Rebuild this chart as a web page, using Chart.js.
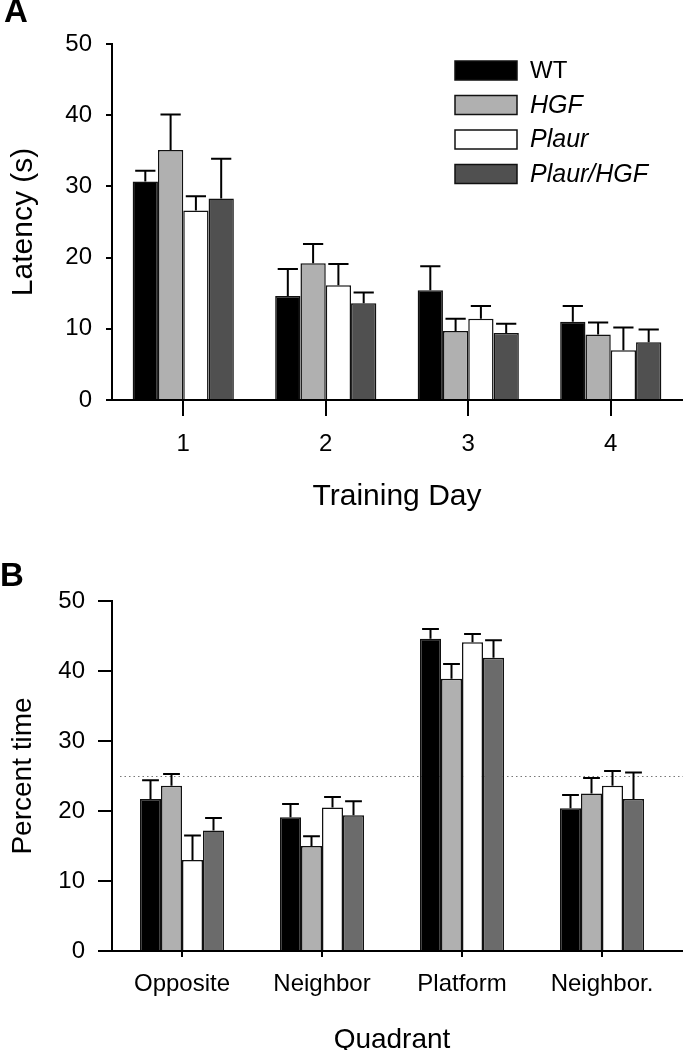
<!DOCTYPE html>
<html>
<head>
<meta charset="utf-8">
<script src="https://cdn.jsdelivr.net/npm/chart.js@4"></script>
<style>
  html, body { margin: 0; padding: 0; background: #fff; overflow: hidden; }
  #wrap { position: relative; width: 683px; height: 1050px; overflow: hidden; }
  .box { position: absolute; left: 0; width: 683px; }
  .panel { position: absolute; font-family: Arial, "Liberation Sans", sans-serif; font-weight: bold; font-size: 33px; line-height: 33px; }
</style>
</head>
<body>
<div id="wrap">
  <div class="box" style="top:0;height:520px"><canvas id="chartA" width="683" height="520"></canvas></div>
  <div class="box" style="top:520px;height:545px"><canvas id="chartB" width="683" height="545"></canvas></div>
  <div class="panel" style="left:4px;top:-6px">A</div>
  <div class="panel" style="left:0px;top:558px">B</div>
</div>
<script>
// Panel A: escape latency per training day
const days = ['1', '2', '3', '4'];
const groups = ['WT', 'HGF', 'Plaur', 'Plaur/HGF'];
const latWT = [30.7, 14.6, 15.4, 11.0];
const latHGF = [35.1, 19.2, 9.7, 9.2];
const latPlaur = [26.6, 16.1, 11.4, 7.0];
const latPlaurHGF = [28.3, 13.6, 9.4, 8.1];
const latWTsem = [1.5, 3.8, 3.4, 2.2];
const latHGFsem = [5.0, 2.7, 1.7, 1.7];
const latPlaurSem = [2.0, 3.0, 1.8, 3.2];
const latPlaurHGFsem = [5.6, 1.5, 1.3, 1.8];

// Panel B: probe trial, percent time per quadrant
const quadrants = ['Opposite', 'Neighbor', 'Platform', 'Neighbor.'];
const pctWT = [21.7, 19.1, 44.6, 20.4];
const pctHGF = [23.6, 15.0, 38.9, 22.5];
const pctPlaur = [13.0, 20.5, 44.1, 23.6];
const pctPlaurHGF = [17.2, 19.4, 41.9, 21.7];
const pctWTsem = [2.7, 1.9, 1.4, 1.9];
const pctHGFsem = [1.7, 1.4, 2.1, 2.2];
const pctPlaurSem = [3.5, 1.5, 1.2, 2.1];
const pctPlaurHGFsem = [1.8, 2.0, 2.5, 3.8];
const chanceLevel = 25;

const yTicks = [0, 10, 20, 30, 40, 50];

Chart.defaults.font.family = 'Arial, "Liberation Sans", sans-serif';
Chart.defaults.color = '#000';

// upward-only SEM bars with caps
const errorBars = {
    id: 'errorBars',
    afterDatasetsDraw(chart) {
        const ctx = chart.ctx;
        const y = chart.scales.y;
        ctx.save();
        ctx.strokeStyle = '#000';
        ctx.lineWidth = 2;
        chart.data.datasets.forEach((ds, i) => {
            const meta = chart.getDatasetMeta(i);
            meta.data.forEach((bar, j) => {
                const top = y.getPixelForValue(ds.data[j] + ds.sem[j]);
                const half = bar.width * 0.4;
                ctx.beginPath();
                ctx.moveTo(bar.x, bar.y);
                ctx.lineTo(bar.x, top);
                ctx.moveTo(bar.x - half, top);
                ctx.lineTo(bar.x + half, top);
                ctx.stroke();
            });
        });
        ctx.restore();
    }
};

// legend box list in the upper right of panel A
const boxLegend = {
    id: 'boxLegend',
    afterDraw(chart) {
        if (!chart.options.plugins.boxLegend) return;
        const ctx = chart.ctx;
        ctx.save();
        chart.data.datasets.forEach((ds, i) => {
            const top = 61 + i * 34.5;
            ctx.fillStyle = ds.backgroundColor;
            ctx.fillRect(455, top, 62, 19);
            ctx.strokeStyle = '#111';
            ctx.lineWidth = 1.5;
            ctx.strokeRect(455, top, 62, 19);
            ctx.fillStyle = '#000';
            ctx.font = (ds.italic ? 'italic 25px ' : '24px ') + 'Arial, "Liberation Sans", sans-serif';
            ctx.textBaseline = 'middle';
            ctx.fillText(ds.label, 530, top + 10.5);
        });
        ctx.restore();
    }
};

// dotted chance line and x axis run-out for panel B
const chanceLine = {
    id: 'chanceLine',
    beforeDatasetsDraw(chart) {
        const opt = chart.options.plugins.chanceLine;
        if (!opt) return;
        const ctx = chart.ctx;
        const area = chart.chartArea;
        const yy = Math.round(chart.scales.y.getPixelForValue(opt.value)) + 0.5;
        ctx.save();
        ctx.strokeStyle = '#777';
        ctx.lineWidth = 1;
        ctx.setLineDash([1.5, 3]);
        ctx.beginPath();
        ctx.moveTo(area.left + 8, yy);
        ctx.lineTo(chart.width, yy);
        ctx.stroke();
        ctx.restore();
    },
    afterDraw(chart) {
        if (!chart.options.plugins.chanceLine) return;
        const ctx = chart.ctx;
        const area = chart.chartArea;
        ctx.save();
        ctx.strokeStyle = '#000';
        ctx.lineWidth = 2;
        ctx.beginPath();
        ctx.moveTo(area.right, area.bottom);
        ctx.lineTo(chart.width, area.bottom);
        ctx.stroke();
        ctx.restore();
    }
};

function makeSet(label, data, sem, color, italic) {
    return {
        label, data, sem, italic,
        backgroundColor: color,
        borderColor: '#111',
        borderWidth: 1.5,
        barPercentage: 1.0
    };
}

function buildChart(id, cfg) {
    return new Chart(document.getElementById(id), {
        type: 'bar',
        data: { labels: cfg.labels, datasets: cfg.datasets },
        plugins: [errorBars, boxLegend, chanceLine],
        options: {
            responsive: false,
            animation: false,
            layout: { padding: cfg.padding },
            datasets: { bar: { categoryPercentage: cfg.catPct } },
            plugins: {
                legend: { display: false },
                tooltip: { enabled: false },
                boxLegend: cfg.legend,
                chanceLine: cfg.chance
            },
            scales: {
                x: {
                    offset: true,
                    afterFit: s => { s.height = cfg.xHeight; },
                    grid: { offset: false, drawOnChartArea: false, drawTicks: true, tickLength: cfg.xTick, color: '#000', lineWidth: 2 },
                    border: { display: true, color: '#000', width: 2 },
                    ticks: { font: { size: 24 }, padding: cfg.xPad, maxRotation: 0 },
                    title: { display: true, text: cfg.xTitle, font: { size: cfg.titleSize }, padding: { top: 0, bottom: cfg.xTitlePad } }
                },
                y: {
                    min: 0, max: 50,
                    afterFit: s => { s.width = 112; },
                    afterBuildTicks: s => { s.ticks = yTicks.map(v => ({ value: v })); },
                    grid: { drawOnChartArea: false, drawTicks: true, tickLength: cfg.yTick, color: '#000', lineWidth: 2 },
                    border: { display: true, color: '#000', width: 2 },
                    ticks: { font: { size: 24 }, padding: cfg.yPad },
                    title: { display: true, text: cfg.yTitle, font: { size: cfg.titleSize }, padding: { top: cfg.yTitlePad, bottom: 0 } }
                }
            }
        }
    });
}

buildChart('chartA', {
    labels: days,
    datasets: [
        makeSet(groups[0], latWT, latWTsem, '#000000', false),
        makeSet(groups[1], latHGF, latHGFsem, '#b0b0b0', true),
        makeSet(groups[2], latPlaur, latPlaurSem, '#ffffff', true),
        makeSet(groups[3], latPlaurHGF, latPlaurHGFsem, '#505050', true)
    ],
    padding: { top: 44, right: 1, bottom: 0, left: 0 },
    catPct: 0.71,
    titleSize: 30,
    xHeight: 120, xTick: 16, xPad: 14, xTitle: 'Training Day', xTitlePad: 5,
    yTick: 6, yPad: 14, yTitle: 'Latency (s)', yTitlePad: 6,
    legend: true,
    chance: false
});

buildChart('chartB', {
    labels: quadrants,
    datasets: [
        makeSet(groups[0], pctWT, pctWTsem, '#000000', false),
        makeSet(groups[1], pctHGF, pctHGFsem, '#b0b0b0', true),
        makeSet(groups[2], pctPlaur, pctPlaurSem, '#ffffff', true),
        makeSet(groups[3], pctPlaurHGF, pctPlaurHGFsem, '#6b6b6b', true)
    ],
    padding: { top: 81, right: 11, bottom: 0, left: 0 },
    catPct: 0.6,
    titleSize: 28,
    xHeight: 114, xTick: 6, xPad: 13, xTitle: 'Quadrant', xTitlePad: 8,
    yTick: 14, yPad: 13, yTitle: 'Percent time', yTitlePad: 6,
    legend: false,
    chance: { value: chanceLevel }
});
</script>
</body>
</html>
